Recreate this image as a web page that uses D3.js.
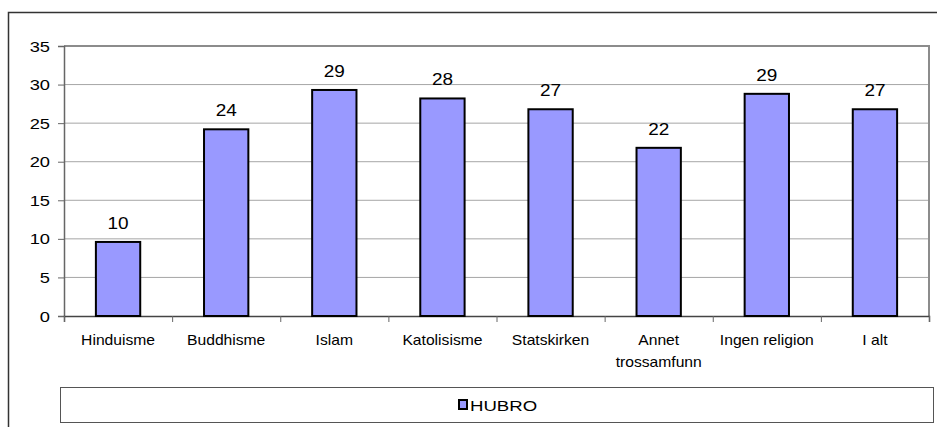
<!DOCTYPE html>
<html>
<head>
<meta charset="utf-8">
<script src="https://cdn.jsdelivr.net/npm/d3@7"></script>
<style>
  body { margin: 0; background: #fff; }
  svg { display: block; font-family: "Liberation Sans", Arial, sans-serif; }
</style>
</head>
<body>
<div id="chart-area"></div>
<script>
var width = 937;
var height = 427;

// data
var categories = ["Hinduisme", "Buddhisme", "Islam", "Katolisisme", "Statskirken", "Annet trossamfunn", "Ingen religion", "I alt"];
var values = [9.6, 24.2, 29.3, 28.2, 26.8, 21.8, 28.8, 26.8];
var valueLabels = ["10", "24", "29", "28", "27", "22", "29", "27"];
var yTicks = [0, 5, 10, 15, 20, 25, 30, 35];
var seriesName = "HUBRO";

var svg = d3.select("#chart-area").append("svg")
    .attr("width", width)
    .attr("height", height);

// text in the source picture is a bit stretched sideways
function stretchedText(g, px, py, str, size, sx, anchor) {
    return g.append("text")
        .attr("transform", "translate(" + px + "," + py + ") scale(" + sx + ",1)")
        .attr("text-anchor", anchor)
        .attr("font-size", size)
        .attr("fill", "#000")
        .text(str);
}

// outer chart frame (runs off the right/bottom edge)
svg.append("rect")
    .attr("x", 8.5).attr("y", 12.5)
    .attr("width", width + 20).attr("height", height + 20)
    .attr("fill", "none")
    .attr("stroke", "#333")
    .attr("stroke-width", 1.5);

var plot = {left: 64, top: 46, right: 929, bottom: 316};

var x = d3.scaleBand()
    .domain(categories)
    .range([plot.left, plot.right])
    .paddingInner(0.59)
    .paddingOuter(0.295);

var xTicks = d3.scaleLinear()
    .domain([0, categories.length])
    .range([plot.left, plot.right]);

var y = d3.scaleLinear()
    .domain([0, 35])
    .range([plot.bottom, plot.top]);

// gridlines
svg.append("g")
    .selectAll("line")
    .data(yTicks.filter(function(d){ return d > 0; }))
    .enter().append("line")
    .attr("x1", plot.left).attr("x2", plot.right)
    .attr("y1", function(d){ return y(d); })
    .attr("y2", function(d){ return y(d); })
    .attr("stroke", "#a6a6a6")
    .attr("stroke-width", 1);

// plot border top and right
svg.append("path")
    .attr("d", "M" + plot.left + "," + plot.top + "H" + plot.right + "V" + plot.bottom)
    .attr("fill", "none")
    .attr("stroke", "#8c8c8c")
    .attr("stroke-width", 2);

// y axis
var yAxis = d3.axisLeft(y)
    .tickValues(yTicks)
    .tickSize(6)
    .tickFormat("");

var gy = svg.append("g")
    .attr("transform", "translate(" + plot.left + ",0)")
    .call(yAxis);
gy.select(".domain").attr("stroke", "#666").attr("stroke-width", 1.5);
gy.selectAll(".tick line").attr("stroke", "#666");

var yLab = svg.append("g");
yTicks.forEach(function(t){
    stretchedText(yLab, 50, y(t) + 5.5, String(t), 15, 1.22, "end");
});

// x axis line and ticks between categories
var xAxis = d3.axisBottom(xTicks)
    .tickValues(d3.range(categories.length + 1))
    .tickSize(6)
    .tickFormat("");

var gx = svg.append("g")
    .attr("transform", "translate(0," + plot.bottom + ")")
    .call(xAxis);
gx.select(".domain").attr("stroke", "#444").attr("stroke-width", 1.5);
gx.selectAll(".tick line").attr("stroke", "#666");

// category labels
var catG = svg.append("g");
categories.forEach(function(c){
    var cx = x(c) + x.bandwidth() / 2;
    var lines = c === "Annet trossamfunn" ? ["Annet", "trossamfunn"] : [c];
    lines.forEach(function(l, i){
        stretchedText(catG, cx, 345 + i * 22, l, 14.5, 1.08, "middle");
    });
});

// bars
svg.append("g")
    .selectAll("rect")
    .data(values)
    .enter().append("rect")
    .attr("x", function(d, i){ return x(categories[i]); })
    .attr("y", function(d){ return y(d); })
    .attr("width", x.bandwidth())
    .attr("height", function(d){ return y(0) - y(d); })
    .attr("fill", "#9999ff")
    .attr("stroke", "#000")
    .attr("stroke-width", 2);

// value labels
var valG = svg.append("g");
values.forEach(function(v, i){
    stretchedText(valG, x(categories[i]) + x.bandwidth() / 2, y(v) - 13, valueLabels[i], 16.5, 1.15, "middle");
});

// legend
svg.append("rect")
    .attr("x", 60.5).attr("y", 387.5)
    .attr("width", 873).attr("height", 35)
    .attr("fill", "#fff")
    .attr("stroke", "#555")
    .attr("stroke-width", 1);

svg.append("rect")
    .attr("x", 459).attr("y", 400)
    .attr("width", 8).attr("height", 9)
    .attr("fill", "#9999ff")
    .attr("stroke", "#000")
    .attr("stroke-width", 2);

stretchedText(svg, 470, 410.5, seriesName, 15.5, 1.2, "start");
</script>
</body>
</html>
